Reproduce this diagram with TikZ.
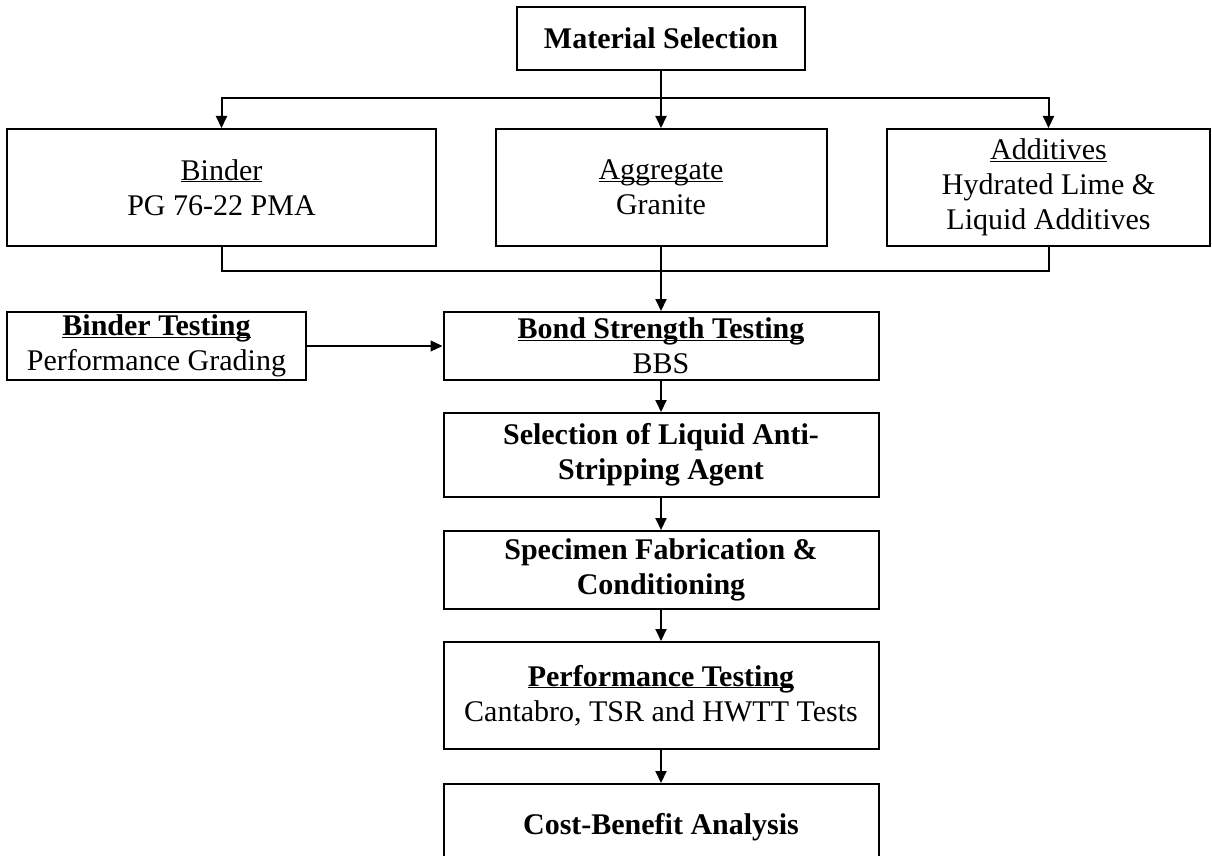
\documentclass[tikz,border=0pt]{standalone}
\usepackage{fontspec}
\setmainfont{Liberation Serif}
\usetikzlibrary{arrows.meta}
\newcommand\ulin[1]{\underline{\raisebox{0pt}[\height][0pt]{#1}}}
\begin{document}
\begin{tikzpicture}[x=1pt,y=-1pt,
 box/.style={draw,line width=2pt,inner sep=0pt,align=center,font=\fontsize{30}{35}\selectfont},
 conn/.style={line width=2pt},
 arr/.style={line width=2pt,-{Triangle[length=12pt,width=11pt]}},
 thinarr/.style={line width=1.2pt,-{Triangle[length=12pt,width=11pt]}}]
\clip (0,0) rectangle (1212,856);
\node[box,minimum width=288pt,minimum height=63pt] (ms) at (661,38.5) {\textbf{Material Selection}};
\node[box,minimum width=429pt,minimum height=117pt] (bind) at (221.5,187.5) {\ulin{Binder}\\PG 76-22 PMA};
\node[box,minimum width=331pt,minimum height=117pt] (agg) at (661,187.5) {\ulin{Aggregate}\\Granite};
\node[box,minimum width=323pt,minimum height=117pt] (add) at (1048.5,187.5) {\ulin{Additives}\\Hydrated Lime \&\\Liquid Additives};
\node[box,minimum width=299pt,minimum height=68pt] (bt) at (156.5,346) {\textbf{\ulin{Binder Testing}}\\Performance Grading};
\node[box,minimum width=435pt,minimum height=68pt] (bond) at (661,346) {\textbf{\ulin{Bond Strength Testing}}\\BBS};
\node[box,minimum width=435pt,minimum height=84pt] (sel) at (661,455) {\textbf{Selection of Liquid Anti-}\\\textbf{Stripping Agent}};
\node[box,minimum width=435pt,minimum height=78pt] (spec) at (661,570) {\textbf{Specimen Fabrication \&}\\\textbf{Conditioning}};
\node[box,minimum width=435pt,minimum height=107pt] (perf) at (661,695.5) {\textbf{\ulin{Performance Testing}}\\Cantabro, TSR and HWTT Tests};
\node[box,minimum width=435pt,minimum height=86pt] (cost) at (661,827) {\textbf{Cost-Benefit Analysis}};
\coordinate (top) at (661,98);
\coordinate (bot) at (661,271);
\draw[arr] (ms.south) -- (agg.north);
\draw[arr] (top) -| (bind.north);
\draw[arr] (top) -| (add.north);
\draw[conn] (bind.south) |- (bot);
\draw[conn] (add.south) |- (bot);
\draw[arr] (agg.south) -- (bond.north);
\draw[thinarr] (bt.east) -- (bond.west);
\draw[arr] (bond.south) -- (sel.north);
\draw[arr] (sel.south) -- (spec.north);
\draw[arr] (spec.south) -- (perf.north);
\draw[arr] (perf.south) -- (cost.north);
\end{tikzpicture}
\end{document}
